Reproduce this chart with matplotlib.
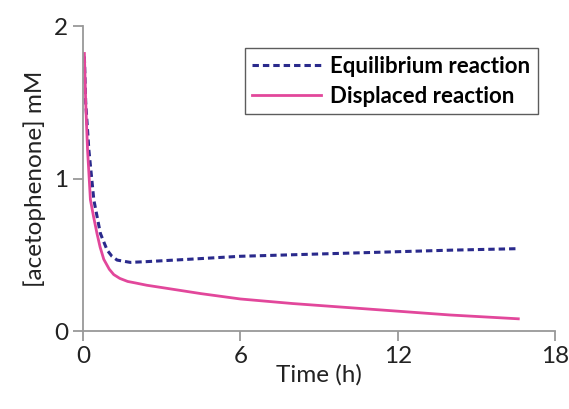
import matplotlib
matplotlib.use('Agg')
import matplotlib.pyplot as plt

# values
t_eq = [0.05, 0.1, 0.22, 0.41, 0.66, 0.8, 0.92, 1.1, 1.3, 1.8, 2.43, 4, 6, 8, 10, 12, 14, 16.6]
c_eq = [1.80, 1.5, 1.19, 0.86, 0.64, 0.58, 0.53, 0.49, 0.465, 0.45, 0.455, 0.47, 0.49, 0.50, 0.51, 0.52, 0.53, 0.54]

t_disp = [0.05, 0.1, 0.17, 0.28, 0.4, 0.53, 0.65, 0.79, 1.0, 1.17, 1.4, 1.7, 2.0, 2.43, 3, 4.5, 6, 8, 10, 12, 14, 16.6]
c_disp = [1.82, 1.5, 1.19, 0.86, 0.75, 0.64, 0.55, 0.47, 0.405, 0.37, 0.345, 0.325, 0.315, 0.30, 0.285, 0.245, 0.21, 0.18, 0.155, 0.13, 0.105, 0.08]

plt.rcParams['font.family'] = ['Lato', 'DejaVu Sans']

fig = plt.figure(figsize=(5.69, 4.09), dpi=100)
ax = fig.add_axes([0.146, 0.1907, 0.8294, 0.7457])

ax.plot(t_eq, c_eq, color='#2a2a8c', lw=2.2, ls=(0, (2.1, 1.3)), label='Equilibrium reaction')
ax.plot(t_disp, c_disp, color='#e2479b', lw=2.0, label='Displaced reaction')

ax.set_xlim(0, 18)
ax.set_ylim(0, 2)
ax.set_xticks([0, 6, 12, 18])
ax.set_yticks([0, 1, 2])
ax.spines['top'].set_visible(False)
ax.spines['right'].set_visible(False)
for s in ['left', 'bottom']:
    ax.spines[s].set_color('#999999')
    ax.spines[s].set_linewidth(1.3)
ax.tick_params(colors='#999999', width=1.3, length=7, labelsize=17.5, labelcolor='#222222')
ax.set_xlabel('Time (h)', fontsize=17.5, color='#222222', labelpad=-2)
ax.set_ylabel('[acetophenone] mM', fontsize=17.5, color='#222222', labelpad=6)

leg = ax.legend(loc='upper left', bbox_to_anchor=(0.430, 0.883), bbox_transform=fig.transFigure,
                prop={'weight': 'bold', 'size': 16}, frameon=True, fancybox=False,
                handlelength=3.1, handletextpad=0.4, borderpad=0.35, labelspacing=0.4,
                borderaxespad=0)
leg.get_frame().set_edgecolor('#333333')
leg.get_frame().set_linewidth(1.0)

fig.savefig('out.png', dpi=100)
